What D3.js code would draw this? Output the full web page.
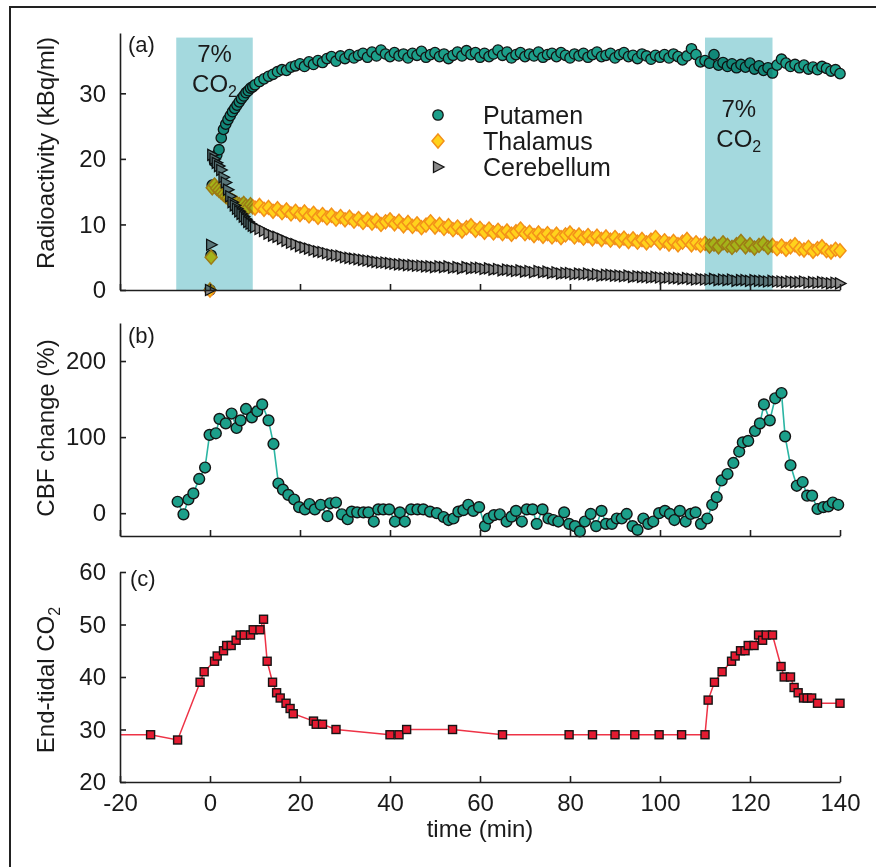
<!DOCTYPE html>
<html>
<head>
<meta charset="utf-8">
<script src="https://cdnjs.cloudflare.com/ajax/libs/d3/7.8.5/d3.min.js"></script>
<style>
  body { margin: 0; background: #fff; }
  text { font-family: "Liberation Sans", Arial, Helvetica, sans-serif; fill: #1a1a1a; }
</style>
</head>
<body>
<script>
// ---------- DATA ----------
// panel (a): PET time-activity curves (kBq/ml)
const timeA = [
  0, 0.25, 0.5, 1, 1.5, 2, 2.5, 3, 3.5, 4,
  4.5, 5, 5.5, 6, 6.5, 7, 7.5, 8, 8.5, 9,
  9.5, 10,
  11, 12, 13, 14, 15, 16, 17, 18, 19, 20,
  21, 22, 23, 24, 25, 26, 27, 28, 29, 30,
  31, 32, 33, 34, 35, 36, 37, 38, 39, 40,
  41, 42, 43, 44, 45, 46, 47, 48, 49, 50,
  51, 52, 53, 54, 55, 56, 57, 58, 59, 60,
  61, 62, 63, 64, 65, 66, 67, 68, 69, 70,
  71, 72, 73, 74, 75, 76, 77, 78, 79, 80,
  81, 82, 83, 84, 85, 86, 87, 88, 89, 90,
  91, 92, 93, 94, 95, 96, 97, 98, 99, 100,
  101, 102, 103, 104, 105, 106, 107, 108, 109, 110,
  111, 112, 113, 114, 115, 116, 117, 118, 119, 120,
  121, 122, 123, 124, 125, 126, 127, 128, 129, 130,
  131, 132, 133, 134, 135, 136, 137, 138, 139, 140
];
const putamen = [
  0, 5.3, 16.0, 19.6, 20.6, 21.4, 23.2, 24.5, 25.3, 26.0,
  26.6, 27.2, 27.7, 28.2, 28.7, 29.2, 29.6, 30.1, 30.4, 30.8,
  31.0, 31.3,
  31.8, 32.2, 32.6, 32.9, 33.3, 33.6, 33.5, 34.0, 34.2, 34.5,
  34.1, 34.8, 34.4, 35.0, 34.7, 35.3, 35.6, 34.9, 35.7, 35.3,
  35.9, 35.4, 35.8, 36.1, 35.5, 36.3, 35.7, 36.6, 36.0, 35.6,
  36.2, 35.7, 36.0, 35.4, 36.1, 35.8, 36.4, 35.5, 35.9, 36.2,
  35.6, 36.0, 35.3, 35.8, 36.3, 35.7, 36.5, 35.9, 36.2, 35.5,
  36.1, 35.6, 36.0, 36.6, 35.8, 36.3, 35.4, 35.9, 36.2, 35.6,
  36.0, 35.7, 36.3, 35.5, 35.9, 36.1, 35.6, 36.2, 35.8, 35.4,
  36.0, 35.7, 36.1, 35.5, 35.9, 36.3, 35.6, 35.8, 36.1, 35.4,
  35.9, 36.2, 35.6, 35.8, 35.3, 36.0, 35.7, 35.2, 35.8, 35.5,
  35.9, 35.4, 36.0, 35.6, 35.1, 35.7, 36.8, 35.9, 34.8, 35.0,
  34.6, 35.9, 34.3, 34.7, 34.1, 34.5, 33.9, 34.4, 34.0, 34.6,
  33.7, 34.2, 33.5, 33.9, 33.1, 34.3, 35.2, 34.6, 34.1, 34.4,
  33.9, 34.3, 33.7, 34.0, 33.6, 34.1, 33.8, 33.4, 33.6, 33.0
];
const thalamus = [
  0, 5.0, 15.6, 16.0, 15.5, 15.2, 14.9, 14.6, 14.3, 14.0,
  13.8, 13.6, 13.4, 13.2, 13.0, 12.9, 13.2, 12.8, 12.6, 13.0,
  12.7, 12.5,
  12.9, 12.3, 12.6, 12.0, 12.4, 11.8, 12.2, 11.6, 12.0, 11.5,
  11.9, 11.3, 11.7, 11.1, 11.5, 11.0, 11.4, 10.8, 11.2, 10.7,
  11.1, 10.5, 10.9, 10.3, 10.8, 10.2, 10.6, 10.0, 10.4, 10.7,
  10.1, 10.5, 9.8, 10.3, 9.7, 10.1, 9.5, 9.9, 10.4, 9.6,
  10.0, 9.4, 9.8, 9.2, 9.6, 9.0, 9.5, 9.8, 9.1, 9.4,
  8.8, 9.3, 8.7, 9.1, 8.6, 9.0, 8.5, 8.9, 9.3, 8.6,
  8.8, 8.3, 8.7, 8.2, 8.6, 8.1, 8.5, 8.0, 8.4, 8.7,
  8.1, 8.4, 7.9, 8.3, 7.8, 8.2, 7.7, 8.1, 7.6, 8.0,
  7.5, 7.9, 7.4, 7.8, 7.3, 7.7, 7.2, 7.6, 8.0, 7.2,
  7.5, 7.0, 7.4, 6.9, 7.3, 7.7, 6.9, 7.2, 6.8, 7.1,
  6.7, 7.0, 6.6, 7.2, 6.8, 6.5, 6.9, 7.4, 6.6, 6.9,
  6.4, 6.8, 7.1, 6.5, 6.8, 6.3, 6.7, 6.2, 6.6, 6.9,
  6.3, 6.1, 6.5, 5.9, 6.3, 6.6, 6.0, 5.8, 6.2, 6.0
];
const cerebellum = [
  0, 6.9, 20.6, 20.0, 19.4, 18.9, 18.3, 17.2, 16.4, 15.3,
  14.3, 13.4, 12.9, 12.4, 12.0, 11.6, 11.2, 10.8, 10.4, 10.1,
  9.8, 9.6,
  9.3, 9.0, 8.6, 8.3, 8.1, 7.8, 7.5, 7.2, 7.0, 6.7,
  6.5, 6.3, 6.1, 5.9, 5.8, 5.6, 5.4, 5.3, 5.2, 5.0,
  4.9, 4.8, 4.7, 4.6, 4.5, 4.4, 4.3, 4.2, 4.2, 4.1,
  4.0, 3.9, 3.9, 3.8, 3.8, 3.7, 3.7, 3.6, 3.6, 3.5,
  3.6, 3.5, 3.6, 3.4, 3.5, 3.3, 3.5, 3.3, 3.4, 3.4,
  3.2, 3.3, 3.1, 3.2, 3.0, 3.1, 3.0, 2.9, 3.0, 2.8,
  2.9, 2.7, 2.9, 2.7, 2.8, 2.6, 2.7, 2.5, 2.6, 2.6,
  2.4, 2.5, 2.4, 2.5, 2.3, 2.4, 2.2, 2.3, 2.3, 2.2,
  2.2, 2.1, 2.2, 2.0, 2.1, 2.0, 2.0, 1.9, 2.0, 1.9,
  1.8, 1.9, 1.8, 1.8, 1.7, 1.8, 1.7, 1.6, 1.7, 1.6,
  1.6, 1.7, 1.5, 1.6, 1.5, 1.6, 1.4, 1.5, 1.5, 1.4,
  1.5, 1.4, 1.4, 1.3, 1.4, 1.3, 1.3, 1.2, 1.3, 1.2,
  1.2, 1.3, 1.1, 1.2, 1.1, 1.2, 1.1, 1.0, 1.1, 1.0
];
// 7% CO2 inhalation periods (min)
const co2Periods = [[-7.5, 9.5], [110, 125]];

// panel (b): CBF change (%)
const timeB = [
  -7.2, -5.9, -4.8, -3.7, -2.4, -1.1, -0.1, 1.3, 2.1, 3.5,
  4.8, 5.9, 6.8, 8.0, 9.3, 10.5, 11.6, 13.0, 14.1, 15.2,
  16.2, 17.4, 18.7, 19.8, 21.1, 22.1, 23.3, 24.6, 26.1, 26.7,
  28.0, 29.3, 30.6, 31.5, 32.7, 34.1, 35.2, 36.4, 37.4, 38.5,
  39.8, 41.1, 42.2, 43.3, 44.7, 46.1, 47.4, 48.9, 50.4, 51.9,
  53.0, 54.1, 55.2, 56.3, 57.4, 58.5, 59.8, 61.1, 61.9, 63.1,
  64.4, 65.9, 67.0, 68.0, 69.3, 70.4, 71.7, 72.6, 73.9, 75.2,
  76.3, 77.4, 78.7, 79.8, 81.1, 82.2, 83.3, 84.6, 85.8, 87.0,
  88.0, 89.3, 90.4, 91.5, 92.6, 93.9, 95.0, 96.3, 97.4, 98.5,
  99.8, 101.1, 102.2, 103.2, 104.4, 105.7, 106.8, 107.9, 109.1, 110.5,
  111.6, 112.6, 113.7, 115.0, 116.3, 117.6, 118.4, 119.6, 121.1, 122.2,
  123.1, 124.4, 125.6, 127.0, 127.8, 129.0, 130.4, 131.7, 132.7, 133.8,
  135.0, 136.3, 137.4, 138.4, 139.6
];
const cbfChange = [
  15, -1.5, 18, 26, 45, 60, 103, 105, 124, 118,
  131, 112, 122, 137, 126, 134, 143, 122, 91, 39,
  31, 24, 18, 8, 5, 12, 5, 11, -4, 13,
  14, -1.5, -8, 2, 1, 1, 1, -11, 5, 5,
  5, -11, 1, -11, 5, 5, 5, 2, 0, -5,
  -9, -7, 2, 4, 11, 3, 8, -17, -7, -2.5,
  -1.5, -11, -4.5, 3, -11, 5, 5, -14, 5, -7,
  -9, -11, 1, -14, -17, -24, -11, -1, -17, 3,
  -14, -14, -7, -7, -1, -17, -22, -7, -14, -11,
  0, 3, -1, -9, 3, -11, -1, 1, -14, -7,
  11, 21, 43, 51.5, 66, 81, 93, 95, 108, 118,
  143, 122, 151, 158, 101, 63, 36, 41, 23, 23,
  5.5, 8, 9, 14, 11
];

// panel (c): end-tidal CO2
const timeC = [
  -21, -13.2, -7.2, -2.2, -1.3, 1.0, 1.6, 3.0, 3.7, 4.7,
  5.8, 6.7, 7.6, 9.0, 9.6, 11.1, 11.9, 12.7, 13.9, 14.8,
  15.6, 16.9, 17.8, 18.5, 23.0, 23.6, 25.0, 28.0, 40.0, 42.0,
  43.7, 53.9, 65.0, 79.8, 85.0, 90.0, 94.4, 99.8, 104.8, 110.0,
  110.7, 112.1, 113.8, 115.9, 116.7, 117.9, 118.9, 119.6, 120.9, 121.9,
  122.8, 123.6, 125.0, 126.9, 127.6, 129.0, 129.8, 130.7, 131.9, 132.7,
  133.7, 135.0, 140.0
];
const etCO2 = [
  29, 29, 28, 39, 41, 43, 44, 45, 46, 46,
  47, 48, 48, 48, 49, 49, 51, 43, 39, 37,
  36, 35, 34, 33, 31.6, 31, 31, 30, 29, 29,
  30, 30, 29, 29, 29, 29, 29, 29, 29, 29,
  35.6, 39, 41, 43, 44, 45, 45, 46, 46, 48,
  47, 48, 48, 42, 40, 40, 38, 37, 36, 36,
  36, 35, 35
];

const xTicks = [-20, 0, 20, 40, 60, 80, 100, 120, 140];
const ticksA = [0, 10, 20, 30];
const ticksB = [0, 100, 200];
const ticksC = [20, 30, 40, 50, 60];

// ---------- LAYOUT ----------
const width = 876, height = 867;
const FONT = 24;
const AXIS = "#1e1e1e";

const svg = d3.select("body").append("svg")
    .attr("width", width)
    .attr("height", height);

svg.append("rect").attr("width", width).attr("height", height).attr("fill", "#fff");

// frame (top + left edge of the figure box)
svg.append("path")
    .attr("d", `M10,${height} L10,7 L${width},7`)
    .attr("fill", "none")
    .attr("stroke", "#222")
    .attr("stroke-width", 2);

const x = d3.scaleLinear().domain([-20, 140]).range([120, 840]);
const yA = d3.scaleLinear().domain([0, 39.2]).range([290, 33]);
const yB = d3.scaleLinear().domain([-30, 250]).range([536, 323]);
const yC = d3.scaleLinear().domain([20, 60]).range([782, 572]);

function styleAxis(g) {
    g.attr("font-family", null).attr("font-size", null);
    g.selectAll("path, line").attr("stroke", AXIS).attr("stroke-width", 1.6);
    g.selectAll("text").style("font-size", FONT + "px").attr("fill", "#1a1a1a");
}

function drawAxes(yScale, yTicks, y0, showX) {
    const xa = d3.axisBottom(x).tickValues(xTicks).tickSizeInner(-6).tickSizeOuter(0)
        .tickPadding(12).tickFormat(showX ? (d => String(d)) : "");
    svg.append("g").attr("transform", `translate(0,${y0})`).call(xa).call(styleAxis);
    const ya = d3.axisLeft(yScale).tickValues(yTicks).tickSizeInner(-6).tickSizeOuter(0)
        .tickPadding(14);
    svg.append("g").attr("transform", `translate(${x(-20)},0)`).call(ya).call(styleAxis);
}

function yTitle(cx, cy, label, sub) {
    const t = svg.append("text")
        .attr("transform", `translate(${cx},${cy}) rotate(-90)`)
        .attr("text-anchor", "middle")
        .style("font-size", FONT + "px")
        .text(label);
    if (sub) {
        t.append("tspan").attr("dy", "0.35em").style("font-size", "16px").text(sub);
    }
}

function panelLabel(px, py, s) {
    svg.append("text").attr("x", px).attr("y", py).style("font-size", "22px").text(s);
}

// ---------- PANEL (a) ----------
const ptsA = timeA.map((t, i) => ({ t, p: putamen[i], th: thalamus[i], c: cerebellum[i] }));

svg.append("g").selectAll("circle").data(ptsA).join("circle")
    .attr("cx", d => x(d.t)).attr("cy", d => yA(d.p)).attr("r", 5.2)
    .attr("fill", "#1c9f8a").attr("stroke", "#141414").attr("stroke-width", 1.3);

const diamond = "M0,-7 L6,0 L0,7 L-6,0Z";
svg.append("g").selectAll("path").data(ptsA).join("path")
    .attr("transform", d => `translate(${x(d.t)},${yA(d.th)})`)
    .attr("d", diamond)
    .attr("fill", "#ffd21c").attr("stroke", "#f39019").attr("stroke-width", 1.5);

const triRight = "M-4.5,-5.5 L6,0 L-4.5,5.5Z";
svg.append("g").selectAll("path").data(ptsA).join("path")
    .attr("transform", d => `translate(${x(d.t)},${yA(d.c)})`)
    .attr("d", triRight)
    .attr("fill", "#8a8a8a").attr("stroke", "#141414").attr("stroke-width", 1.3);

// CO2 shading (multiplied over the data, as in the original)
svg.append("g").selectAll("rect").data(co2Periods).join("rect")
    .attr("x", d => x(d[0])).attr("width", d => x(d[1]) - x(d[0]))
    .attr("y", yA(38.5)).attr("height", yA(0) - yA(38.5))
    .attr("fill", "#a4d9de")
    .style("mix-blend-mode", "multiply");

const co2Label = [
    { per: co2Periods[0], y1: 62, y2: 92 },
    { per: co2Periods[1], y1: 117, y2: 147 }
];
co2Label.forEach(l => {
    const cx = (x(l.per[0]) + x(l.per[1])) / 2;
    svg.append("text").attr("x", cx).attr("y", l.y1).attr("text-anchor", "middle")
        .style("font-size", FONT + "px").text("7%");
    const t = svg.append("text").attr("x", cx).attr("y", l.y2).attr("text-anchor", "middle")
        .style("font-size", FONT + "px").text("CO");
    t.append("tspan").attr("dy", "0.3em").style("font-size", "16px").text("2");
});

drawAxes(yA, ticksA, yA(0), false);
yTitle(54, 153, "Radioactivity (kBq/ml)");
panelLabel(128, 52, "(a)");

// legend
const legend = svg.append("g").attr("transform", "translate(438,115)");
const legendItems = ["Putamen", "Thalamus", "Cerebellum"];
legendItems.forEach((name, i) => {
    const row = legend.append("g").attr("transform", `translate(0,${i * 26})`);
    if (i === 0) row.append("circle").attr("r", 5.2).attr("fill", "#1c9f8a").attr("stroke", "#141414").attr("stroke-width", 1.3);
    if (i === 1) row.append("path").attr("d", diamond).attr("fill", "#ffd21c").attr("stroke", "#f39019").attr("stroke-width", 1.5);
    if (i === 2) row.append("path").attr("d", triRight).attr("fill", "#8a8a8a").attr("stroke", "#141414").attr("stroke-width", 1.3);
    row.append("text").attr("x", 45).attr("y", 9).style("font-size", "25px").text(name);
});

// ---------- PANEL (b) ----------
const ptsB = timeB.map((t, i) => ({ t, v: cbfChange[i] }));
svg.append("path").datum(ptsB)
    .attr("d", d3.line().x(d => x(d.t)).y(d => yB(d.v)))
    .attr("fill", "none").attr("stroke", "#2bb5a3").attr("stroke-width", 1.6);
svg.append("g").selectAll("circle").data(ptsB).join("circle")
    .attr("cx", d => x(d.t)).attr("cy", d => yB(d.v)).attr("r", 5.4)
    .attr("fill", "#1c9f8a").attr("stroke", "#141414").attr("stroke-width", 1.4);

drawAxes(yB, ticksB, yB(-30), false);
yTitle(54, 428, "CBF change (%)");
panelLabel(128, 343, "(b)");

// ---------- PANEL (c) ----------
const ptsC = timeC.map((t, i) => ({ t, v: etCO2[i] }));
svg.append("clipPath").attr("id", "clipC").append("rect")
    .attr("x", x(-20)).attr("y", 0).attr("width", width).attr("height", height);
svg.append("path").datum(ptsC)
    .attr("clip-path", "url(#clipC)")
    .attr("d", d3.line().x(d => x(d.t)).y(d => yC(d.v)))
    .attr("fill", "none").attr("stroke", "#ee3346").attr("stroke-width", 1.5);
svg.append("g").selectAll("rect").data(ptsC.filter(d => d.t >= -20)).join("rect")
    .attr("x", d => x(d.t) - 4).attr("y", d => yC(d.v) - 4)
    .attr("width", 8).attr("height", 8)
    .attr("fill", "#e41b31").attr("stroke", "#141414").attr("stroke-width", 1.4);

drawAxes(yC, ticksC, yC(20), true);
yTitle(54, 680, "End-tidal CO", "2");
panelLabel(130, 586, "(c)");

svg.append("text")
    .attr("x", (x(-20) + x(140)) / 2).attr("y", 837)
    .attr("text-anchor", "middle")
    .style("font-size", FONT + "px")
    .text("time (min)");
</script>
</body>
</html>
